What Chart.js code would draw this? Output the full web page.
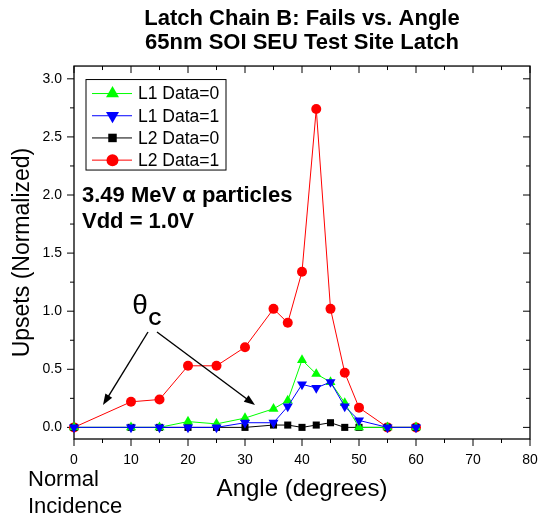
<!DOCTYPE html>
<html>
<head>
<meta charset="utf-8">
<script src="https://cdn.jsdelivr.net/npm/chart.js@4.4.0/dist/chart.umd.min.js"></script>
<style>
  body { margin: 0; background: #fff; }
</style>
</head>
<body>
<canvas id="c" width="539" height="519"></canvas>
<script>
const angles  = [0, 10, 15, 20, 25, 30, 35, 37.5, 40, 42.5, 45, 47.5, 50, 55, 60];
const l1Data0 = [0, 0, 0, 0.05, 0.03, 0.08, 0.16, 0.23, 0.58, 0.46, 0.39, 0.21, 0, 0, 0];
const l1Data1 = [0, 0, 0, 0, 0, 0.04, 0.04, 0.18, 0.37, 0.34, 0.39, 0.18, 0.06, 0, 0];
const l2Data0 = [0, 0, 0, 0, 0, 0, 0.02, 0.02, 0, 0.02, 0.04, 0, 0, 0, 0];
const l2Data1 = [0, 0.22, 0.24, 0.53, 0.53, 0.69, 1.02, 0.90, 1.34, 2.74, 1.02, 0.47, 0.17, 0, 0];

const xTicks = [0, 5, 10, 15, 20, 25, 30, 35, 40, 45, 50, 55, 60, 65, 70, 75, 80];
const yTicks = [0, 0.25, 0.5, 0.75, 1, 1.25, 1.5, 1.75, 2, 2.25, 2.5, 2.75, 3];

const FONT = "'Liberation Sans', Arial, sans-serif";

function ds(label, values, color, style, rot, radius, order) {
  return {
    label: label,
    data: angles.map((a, i) => ({ x: a, y: values[i] })),
    borderColor: color, backgroundColor: color,
    borderWidth: 1, pointStyle: style, rotation: rot,
    pointRadius: radius, pointBorderWidth: 0,
    pointBackgroundColor: color, order: order, clip: false
  };
}

function marker(ctx, style, rot, x, y, r) {
  ctx.beginPath();
  if (style === 'circle') {
    ctx.arc(x, y, r, 0, Math.PI * 2);
  } else if (style === 'triangle') {
    const s = rot ? -1 : 1;
    ctx.moveTo(x, y - s * r);
    ctx.lineTo(x + r * 0.866, y + s * r * 0.5);
    ctx.lineTo(x - r * 0.866, y + s * r * 0.5);
    ctx.closePath();
  } else {
    const h = r * 0.707;
    ctx.rect(x - h, y - h, 2 * h, 2 * h);
  }
  ctx.fill();
}

function arrow(ctx, x1, y1, x2, y2) {
  const ang = Math.atan2(y2 - y1, x2 - x1);
  const hl = 11, hw = 4;
  const c = Math.cos(ang), s = Math.sin(ang);
  ctx.beginPath();
  ctx.moveTo(x1, y1);
  ctx.lineTo(x2 - c * hl * 0.8, y2 - s * hl * 0.8);
  ctx.stroke();
  ctx.beginPath();
  ctx.moveTo(x2, y2);
  ctx.lineTo(x2 - hl * c + hw * s, y2 - hl * s - hw * c);
  ctx.lineTo(x2 - hl * c - hw * s, y2 - hl * s + hw * c);
  ctx.closePath();
  ctx.fill();
}

// frame + ticks on all four sides
const frame = {
  id: 'frame',
  beforeDatasetsDraw(chart) {
    const { ctx, chartArea: a, scales: { x, y } } = chart;
    ctx.save();
    ctx.strokeStyle = '#000';
    ctx.lineWidth = 1.3;
    ctx.strokeRect(a.left, a.top, a.right - a.left, a.bottom - a.top);
    ctx.lineWidth = 1;
    ctx.beginPath();
    xTicks.forEach(v => {
      const px = x.getPixelForValue(v);
      const len = v % 10 === 0 ? 7 : 4;
      ctx.moveTo(px, a.bottom); ctx.lineTo(px, a.bottom + len);
      ctx.moveTo(px, a.top); ctx.lineTo(px, a.top + len);
    });
    yTicks.forEach(v => {
      const py = y.getPixelForValue(v);
      const len = Math.abs(v * 2 - Math.round(v * 2)) < 1e-9 ? 7 : 4;
      ctx.moveTo(a.left, py); ctx.lineTo(a.left - len, py);
      ctx.moveTo(a.right, py); ctx.lineTo(a.right - len, py);
    });
    ctx.stroke();
    ctx.restore();
  }
};

// legend box, notes and arrows
const notes = {
  id: 'notes',
  afterDatasetsDraw(chart) {
    const { ctx, chartArea: a } = chart;
    ctx.save();

    // legend
    const lx = a.left + 12, ly = a.top + 13.5;
    ctx.fillStyle = '#fff';
    ctx.fillRect(lx, ly, 140, 90.5);
    ctx.strokeStyle = '#000';
    ctx.lineWidth = 1;
    ctx.strokeRect(lx, ly, 140, 90.5);
    const rows = [0, 1, 2, 3];
    rows.forEach(i => {
      const d = chart.data.datasets[i];
      const cy = ly + 14 + i * 22.2;
      ctx.strokeStyle = d.borderColor;
      ctx.beginPath();
      ctx.moveTo(lx + 6, cy); ctx.lineTo(lx + 46, cy);
      ctx.stroke();
      ctx.fillStyle = d.borderColor;
      const r = d.pointStyle === 'circle' ? 6 : (d.pointStyle === 'rect' ? 6 : 7.5);
      marker(ctx, d.pointStyle, d.rotation, lx + 26.5, cy, r);
      ctx.fillStyle = '#000';
      ctx.font = '17.5px ' + FONT;
      ctx.textBaseline = 'middle';
      ctx.textAlign = 'left';
      ctx.fillText(d.label, lx + 52, cy + 1);
    });

    ctx.fillStyle = '#000';
    ctx.textBaseline = 'alphabetic';
    ctx.font = 'bold 22px ' + FONT;
    ctx.fillText('3.49 MeV \u03b1 particles', 82, 202);
    ctx.fillText('Vdd = 1.0V', 82, 228);

    ctx.font = '28px ' + FONT;
    ctx.textAlign = 'center';
    ctx.fillText('\u03b8', 140, 314);
    ctx.font = 'bold 18px ' + FONT;
    ctx.fillText('C', 155, 325);

    ctx.strokeStyle = '#000';
    ctx.lineWidth = 1.4;
    arrow(ctx, 148, 332, 103, 405);
    arrow(ctx, 157, 332, 255, 405);

    ctx.textAlign = 'left';
    ctx.font = '22px ' + FONT;
    ctx.fillText('Normal', 28, 486);
    ctx.fillText('Incidence', 28, 513);
    ctx.restore();
  }
};

new Chart(document.getElementById('c'), {
  type: 'line',
  data: {
    datasets: [
      ds('L1 Data=0', l1Data0, '#00ff00', 'triangle', 0, 5.8, 1),
      ds('L1 Data=1', l1Data1, '#0000ff', 'triangle', 180, 5.8, 0),
      ds('L2 Data=0', l2Data0, '#000000', 'rect', 0, 5, 2),
      ds('L2 Data=1', l2Data1, '#ff0000', 'circle', 0, 5, 3)
    ]
  },
  options: {
    responsive: false,
    animation: false,
    layout: { padding: { left: 0, right: 9, top: 0, bottom: 0 } },
    plugins: {
      legend: { display: false },
      tooltip: { enabled: false },
      title: {
        display: true, fullSize: false, color: '#000',
        text: ['Latch Chain B: Fails vs. Angle', '65nm SOI SEU Test Site Latch'],
        font: { family: FONT, size: 22, weight: 'bold', lineHeight: 1.06 },
        padding: { top: 7.5, bottom: 11.9 }
      }
    },
    scales: {
      x: {
        type: 'linear', min: 0, max: 80,
        afterBuildTicks: s => { s.ticks = xTicks.map(v => ({ value: v })); },
        afterFit: s => { s.height = 80; s.paddingLeft = 0; s.paddingRight = 0; },
        ticks: {
          callback: v => (v % 10 === 0 ? String(v) : ''),
          font: { family: FONT, size: 14 }, color: '#000',
          padding: 6, maxRotation: 0, autoSkip: false
        },
        grid: { drawOnChartArea: false, tickLength: 7, tickColor: 'rgba(0,0,0,0)' },
        border: { display: false },
        title: {
          display: true, text: 'Angle (degrees)', color: '#000',
          font: { family: FONT, size: 24 }, padding: { top: 0, bottom: 15 }
        }
      },
      y: {
        type: 'linear', min: -0.1, max: 3.11,
        afterBuildTicks: s => { s.ticks = yTicks.map(v => ({ value: v })); },
        afterFit: s => { s.width = 74; s.paddingTop = 0; s.paddingBottom = 0; },
        ticks: {
          callback: v => (Math.abs(v * 2 - Math.round(v * 2)) < 1e-9 ? v.toFixed(1) : ''),
          font: { family: FONT, size: 14 }, color: '#000',
          padding: 5, autoSkip: false
        },
        grid: { drawOnChartArea: false, tickLength: 7, tickColor: 'rgba(0,0,0,0)' },
        border: { display: false },
        title: {
          display: true, text: 'Upsets (Normalized)', color: '#000',
          font: { family: FONT, size: 23 }, padding: { top: 9, bottom: 0 }
        }
      }
    }
  },
  plugins: [frame, notes]
});
</script>
</body>
</html>
